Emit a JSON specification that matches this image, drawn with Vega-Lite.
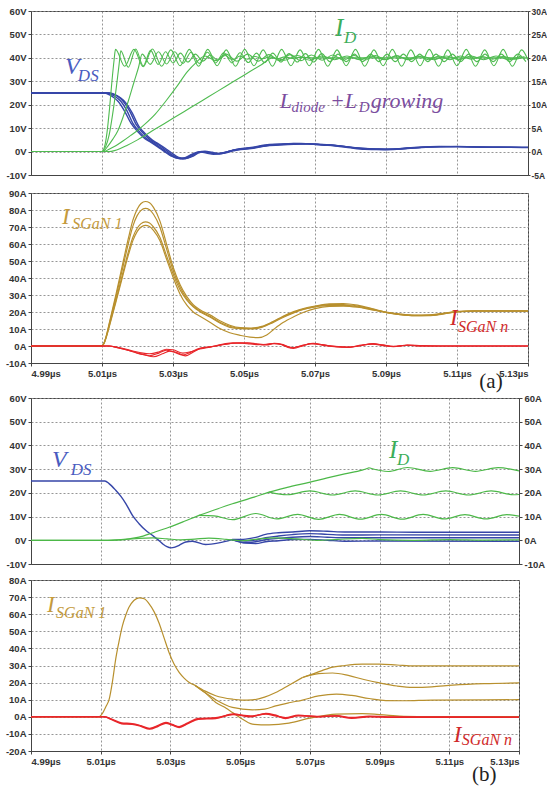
{
"$schema":"https://vega.github.io/schema/vega-lite/v6.json",
"background":"white",
"padding":{"left":4,"top":5,"right":5,"bottom":0},
"autosize":{"type":"pad"},
"datasets":{
"aV":[
{"c":"1","t":4.99,"v":25},{"c":"1","t":5.0112,"v":25},{"c":"1","t":5.0125,"v":24.4},{"c":"1","t":5.014,"v":23.2},{"c":"1","t":5.0151,"v":21.8},{"c":"1","t":5.017,"v":17.5},{"c":"1","t":5.0188,"v":11.8},{"c":"1","t":5.0207,"v":8.2},{"c":"1","t":5.0226,"v":5.4},{"c":"1","t":5.0245,"v":3.6},{"c":"1","t":5.0263,"v":1.8},{"c":"1","t":5.0282,"v":-0.3},{"c":"1","t":5.0301,"v":-2.1},{"c":"1","t":5.032,"v":-3.1},{"c":"1","t":5.034,"v":-2.5},{"c":"1","t":5.036,"v":-0.9},{"c":"1","t":5.038,"v":0},{"c":"1","t":5.04,"v":-0.4},{"c":"1","t":5.042,"v":-1},{"c":"1","t":5.044,"v":-0.7},{"c":"1","t":5.046,"v":0.2},{"c":"1","t":5.048,"v":0.9},{"c":"1","t":5.05,"v":1.2},{"c":"1","t":5.052,"v":1.5},{"c":"1","t":5.054,"v":2},{"c":"1","t":5.056,"v":2.6},{"c":"1","t":5.06,"v":3},{"c":"1","t":5.064,"v":3.3},{"c":"1","t":5.068,"v":3.4},{"c":"1","t":5.072,"v":3},{"c":"1","t":5.076,"v":2.6},{"c":"1","t":5.08,"v":1.8},{"c":"1","t":5.084,"v":1.2},{"c":"1","t":5.088,"v":1},{"c":"1","t":5.092,"v":0.9},{"c":"1","t":5.096,"v":1.4},{"c":"1","t":5.1,"v":1.8},{"c":"1","t":5.105,"v":2.1},{"c":"1","t":5.11,"v":2.2},{"c":"1","t":5.115,"v":2},{"c":"1","t":5.12,"v":1.9},{"c":"1","t":5.125,"v":1.9},{"c":"1","t":5.13,"v":1.8},
{"c":"2","t":4.99,"v":25},{"c":"2","t":5.0118,"v":25},{"c":"2","t":5.0133,"v":24.4},{"c":"2","t":5.0148,"v":23.2},{"c":"2","t":5.0159,"v":21.6},{"c":"2","t":5.0178,"v":17.3},{"c":"2","t":5.0196,"v":11.6},{"c":"2","t":5.0215,"v":8},{"c":"2","t":5.0234,"v":5.2},{"c":"2","t":5.0253,"v":3.4},{"c":"2","t":5.0271,"v":1.6},{"c":"2","t":5.029,"v":-0.6},{"c":"2","t":5.0309,"v":-2.4},{"c":"2","t":5.0328,"v":-3.2},{"c":"2","t":5.0347,"v":-2.4},{"c":"2","t":5.0366,"v":-0.7},{"c":"2","t":5.0385,"v":0.1},{"c":"2","t":5.0405,"v":-0.5},{"c":"2","t":5.0425,"v":-0.8},{"c":"2","t":5.0445,"v":-0.4},{"c":"2","t":5.0465,"v":0.4},{"c":"2","t":5.0485,"v":1.1},{"c":"2","t":5.05,"v":1.4},{"c":"2","t":5.052,"v":1.8},{"c":"2","t":5.054,"v":2.3},{"c":"2","t":5.056,"v":2.8},{"c":"2","t":5.06,"v":3.2},{"c":"2","t":5.064,"v":3.5},{"c":"2","t":5.068,"v":3.3},{"c":"2","t":5.072,"v":2.8},{"c":"2","t":5.076,"v":2.4},{"c":"2","t":5.08,"v":1.6},{"c":"2","t":5.084,"v":1},{"c":"2","t":5.088,"v":0.9},{"c":"2","t":5.092,"v":1},{"c":"2","t":5.096,"v":1.6},{"c":"2","t":5.1,"v":2},{"c":"2","t":5.105,"v":2.2},{"c":"2","t":5.11,"v":2.1},{"c":"2","t":5.115,"v":1.9},{"c":"2","t":5.12,"v":1.8},{"c":"2","t":5.125,"v":1.8},{"c":"2","t":5.13,"v":1.7},
{"c":"3","t":4.99,"v":25},{"c":"3","t":5.0107,"v":25},{"c":"3","t":5.012,"v":24.3},{"c":"3","t":5.0134,"v":23},{"c":"3","t":5.0145,"v":21.5},{"c":"3","t":5.0164,"v":17.2},{"c":"3","t":5.0182,"v":12},{"c":"3","t":5.0201,"v":8.4},{"c":"3","t":5.022,"v":5.6},{"c":"3","t":5.0239,"v":3.8},{"c":"3","t":5.0257,"v":2},{"c":"3","t":5.0276,"v":0},{"c":"3","t":5.0295,"v":-1.9},{"c":"3","t":5.0314,"v":-2.9},{"c":"3","t":5.0334,"v":-2.6},{"c":"3","t":5.0354,"v":-1.1},{"c":"3","t":5.0374,"v":-0.1},{"c":"3","t":5.0394,"v":-0.6},{"c":"3","t":5.0414,"v":-1.2},{"c":"3","t":5.0434,"v":-0.9},{"c":"3","t":5.0455,"v":0},{"c":"3","t":5.0475,"v":0.7},{"c":"3","t":5.05,"v":1},{"c":"3","t":5.052,"v":1.3},{"c":"3","t":5.054,"v":1.8},{"c":"3","t":5.056,"v":2.4},{"c":"3","t":5.06,"v":2.8},{"c":"3","t":5.064,"v":3.1},{"c":"3","t":5.068,"v":3.2},{"c":"3","t":5.072,"v":2.9},{"c":"3","t":5.076,"v":2.5},{"c":"3","t":5.08,"v":1.9},{"c":"3","t":5.084,"v":1.3},{"c":"3","t":5.088,"v":1.1},{"c":"3","t":5.092,"v":1},{"c":"3","t":5.096,"v":1.3},{"c":"3","t":5.1,"v":1.7},{"c":"3","t":5.105,"v":2},{"c":"3","t":5.11,"v":2.1},{"c":"3","t":5.115,"v":2},{"c":"3","t":5.12,"v":1.9},{"c":"3","t":5.125,"v":1.8},{"c":"3","t":5.13,"v":1.8},
{"c":"4","t":4.99,"v":25},{"c":"4","t":5.0122,"v":25},{"c":"4","t":5.0138,"v":24.2},{"c":"4","t":5.0153,"v":22.8},{"c":"4","t":5.0166,"v":21},{"c":"4","t":5.0185,"v":16.5},{"c":"4","t":5.0203,"v":11},{"c":"4","t":5.0222,"v":7.6},{"c":"4","t":5.0241,"v":5},{"c":"4","t":5.026,"v":3.2},{"c":"4","t":5.0278,"v":1.4},{"c":"4","t":5.0297,"v":-0.7},{"c":"4","t":5.0316,"v":-2.5},{"c":"4","t":5.0335,"v":-3},{"c":"4","t":5.0353,"v":-2.2},{"c":"4","t":5.0372,"v":-0.6},{"c":"4","t":5.039,"v":0.2},{"c":"4","t":5.041,"v":-0.3},{"c":"4","t":5.043,"v":-0.9},{"c":"4","t":5.045,"v":-0.5},{"c":"4","t":5.047,"v":0.3},{"c":"4","t":5.049,"v":1},{"c":"4","t":5.051,"v":1.3},{"c":"4","t":5.053,"v":1.7},{"c":"4","t":5.055,"v":2.2},{"c":"4","t":5.058,"v":2.9},{"c":"4","t":5.062,"v":3.3},{"c":"4","t":5.066,"v":3.5},{"c":"4","t":5.07,"v":3.2},{"c":"4","t":5.074,"v":2.8},{"c":"4","t":5.078,"v":2.2},{"c":"4","t":5.082,"v":1.5},{"c":"4","t":5.086,"v":1.1},{"c":"4","t":5.09,"v":0.9},{"c":"4","t":5.094,"v":1.2},{"c":"4","t":5.098,"v":1.6},{"c":"4","t":5.102,"v":1.9},{"c":"4","t":5.107,"v":2.1},{"c":"4","t":5.112,"v":2.1},{"c":"4","t":5.118,"v":1.9},{"c":"4","t":5.124,"v":1.9},{"c":"4","t":5.13,"v":1.8}
],
"aI":[
{"c":"1","t":4.99,"v":0},{"c":"1","t":5.0099,"v":0},{"c":"1","t":5.0107,"v":1},{"c":"1","t":5.0114,"v":4},{"c":"1","t":5.0121,"v":9},{"c":"1","t":5.0128,"v":15},{"c":"1","t":5.0134,"v":19.5},{"c":"1","t":5.0138,"v":21.8},{"c":"1","t":5.0164,"v":18.2},{"c":"1","t":5.019,"v":21.8},{"c":"1","t":5.0216,"v":18.1},{"c":"1","t":5.0242,"v":21.9},{"c":"1","t":5.0268,"v":18.2},{"c":"1","t":5.0294,"v":21.7},{"c":"1","t":5.032,"v":18.3},{"c":"1","t":5.0346,"v":21.8},{"c":"1","t":5.0372,"v":18.2},{"c":"1","t":5.0398,"v":21.8},{"c":"1","t":5.0424,"v":18.3},{"c":"1","t":5.045,"v":21.7},{"c":"1","t":5.0476,"v":18.2},{"c":"1","t":5.0502,"v":21.8},{"c":"1","t":5.0528,"v":18.3},{"c":"1","t":5.0554,"v":21.7},{"c":"1","t":5.058,"v":18.2},{"c":"1","t":5.0606,"v":21.8},{"c":"1","t":5.0632,"v":18.3},{"c":"1","t":5.0658,"v":21.7},{"c":"1","t":5.0684,"v":18.3},{"c":"1","t":5.071,"v":21.8},{"c":"1","t":5.0736,"v":18.2},{"c":"1","t":5.0762,"v":21.7},{"c":"1","t":5.0788,"v":18.3},{"c":"1","t":5.0814,"v":21.8},{"c":"1","t":5.084,"v":18.2},{"c":"1","t":5.0866,"v":21.7},{"c":"1","t":5.0892,"v":18.3},{"c":"1","t":5.0918,"v":21.8},{"c":"1","t":5.0944,"v":18.2},{"c":"1","t":5.097,"v":21.7},{"c":"1","t":5.0996,"v":18.3},{"c":"1","t":5.1022,"v":21.8},{"c":"1","t":5.1048,"v":18.2},{"c":"1","t":5.1074,"v":21.7},{"c":"1","t":5.11,"v":18.3},{"c":"1","t":5.1126,"v":21.8},{"c":"1","t":5.1152,"v":18.2},{"c":"1","t":5.1178,"v":21.7},{"c":"1","t":5.1204,"v":18.3},{"c":"1","t":5.123,"v":21.8},{"c":"1","t":5.1256,"v":18.2},{"c":"1","t":5.1282,"v":21.7},{"c":"1","t":5.13,"v":19.5},
{"c":"2","t":4.99,"v":0},{"c":"2","t":5.0099,"v":0},{"c":"2","t":5.011,"v":1},{"c":"2","t":5.012,"v":3.5},{"c":"2","t":5.013,"v":8},{"c":"2","t":5.014,"v":13.5},{"c":"2","t":5.0148,"v":18.5},{"c":"2","t":5.0153,"v":21.5},{"c":"2","t":5.0174,"v":18},{"c":"2","t":5.0195,"v":21.9},{"c":"2","t":5.0216,"v":18.3},{"c":"2","t":5.0237,"v":21.6},{"c":"2","t":5.0258,"v":18.6},{"c":"2","t":5.0279,"v":21.3},{"c":"2","t":5.03,"v":18.9},{"c":"2","t":5.0321,"v":21},{"c":"2","t":5.0342,"v":19.1},{"c":"2","t":5.0363,"v":20.8},{"c":"2","t":5.0384,"v":19.3},{"c":"2","t":5.0405,"v":20.6},{"c":"2","t":5.0426,"v":19.5},{"c":"2","t":5.0447,"v":20.5},{"c":"2","t":5.0468,"v":19.6},{"c":"2","t":5.0489,"v":20.4},{"c":"2","t":5.051,"v":19.7},{"c":"2","t":5.0531,"v":20.3},{"c":"2","t":5.0552,"v":19.8},{"c":"2","t":5.0573,"v":20.2},{"c":"2","t":5.0594,"v":19.8},{"c":"2","t":5.0615,"v":20.2},{"c":"2","t":5.0636,"v":19.9},{"c":"2","t":5.0657,"v":20.1},{"c":"2","t":5.07,"v":20},{"c":"2","t":5.13,"v":20},
{"c":"3","t":4.99,"v":0},{"c":"3","t":5.0102,"v":0},{"c":"3","t":5.0115,"v":1},{"c":"3","t":5.013,"v":2.6},{"c":"3","t":5.0145,"v":4.5},{"c":"3","t":5.016,"v":7.5},{"c":"3","t":5.0175,"v":11},{"c":"3","t":5.019,"v":14.8},{"c":"3","t":5.0203,"v":18},{"c":"3","t":5.0213,"v":20.8},{"c":"3","t":5.0236,"v":18.6},{"c":"3","t":5.0259,"v":21.3},{"c":"3","t":5.0282,"v":18.7},{"c":"3","t":5.0305,"v":21.3},{"c":"3","t":5.0328,"v":18.8},{"c":"3","t":5.0351,"v":21.2},{"c":"3","t":5.0374,"v":18.8},{"c":"3","t":5.0397,"v":21.2},{"c":"3","t":5.042,"v":18.9},{"c":"3","t":5.0443,"v":21.1},{"c":"3","t":5.0466,"v":18.9},{"c":"3","t":5.0489,"v":21.1},{"c":"3","t":5.0512,"v":19},{"c":"3","t":5.0535,"v":21},{"c":"3","t":5.0558,"v":19},{"c":"3","t":5.0581,"v":21},{"c":"3","t":5.0604,"v":19.1},{"c":"3","t":5.0627,"v":20.9},{"c":"3","t":5.065,"v":19.1},{"c":"3","t":5.0673,"v":20.9},{"c":"3","t":5.0696,"v":19.1},{"c":"3","t":5.0719,"v":20.9},{"c":"3","t":5.0742,"v":19.2},{"c":"3","t":5.0765,"v":20.8},{"c":"3","t":5.0788,"v":19.2},{"c":"3","t":5.0811,"v":20.8},{"c":"3","t":5.0834,"v":19.2},{"c":"3","t":5.0857,"v":20.8},{"c":"3","t":5.088,"v":19.2},{"c":"3","t":5.0903,"v":20.8},{"c":"3","t":5.0926,"v":19.2},{"c":"3","t":5.0949,"v":20.8},{"c":"3","t":5.0972,"v":19.2},{"c":"3","t":5.0995,"v":20.8},{"c":"3","t":5.1018,"v":19.2},{"c":"3","t":5.1041,"v":20.8},{"c":"3","t":5.1064,"v":19.2},{"c":"3","t":5.1087,"v":20.8},{"c":"3","t":5.111,"v":19.2},{"c":"3","t":5.1133,"v":20.8},{"c":"3","t":5.1156,"v":19.2},{"c":"3","t":5.1179,"v":20.8},{"c":"3","t":5.1202,"v":19.2},{"c":"3","t":5.1225,"v":20.8},{"c":"3","t":5.1248,"v":19.2},{"c":"3","t":5.1271,"v":20.8},{"c":"3","t":5.1294,"v":19.2},
{"c":"4","t":4.99,"v":0},{"c":"4","t":5.0105,"v":0},{"c":"4","t":5.012,"v":0.5},{"c":"4","t":5.014,"v":1.3},{"c":"4","t":5.016,"v":2.3},{"c":"4","t":5.018,"v":3.4},{"c":"4","t":5.02,"v":4.5},{"c":"4","t":5.022,"v":5.8},{"c":"4","t":5.025,"v":8},{"c":"4","t":5.028,"v":10.8},{"c":"4","t":5.031,"v":13.8},{"c":"4","t":5.034,"v":17},{"c":"4","t":5.0365,"v":19},{"c":"4","t":5.039,"v":20.4},{"c":"4","t":5.042,"v":19.4},{"c":"4","t":5.045,"v":20.8},{"c":"4","t":5.048,"v":19.3},{"c":"4","t":5.051,"v":20.8},{"c":"4","t":5.054,"v":19.3},{"c":"4","t":5.057,"v":20.7},{"c":"4","t":5.06,"v":19.4},{"c":"4","t":5.063,"v":20.7},{"c":"4","t":5.066,"v":19.4},{"c":"4","t":5.069,"v":20.6},{"c":"4","t":5.072,"v":19.5},{"c":"4","t":5.075,"v":20.6},{"c":"4","t":5.078,"v":19.5},{"c":"4","t":5.081,"v":20.5},{"c":"4","t":5.084,"v":19.5},{"c":"4","t":5.087,"v":20.5},{"c":"4","t":5.09,"v":19.6},{"c":"4","t":5.093,"v":20.5},{"c":"4","t":5.096,"v":19.6},{"c":"4","t":5.099,"v":20.4},{"c":"4","t":5.102,"v":19.6},{"c":"4","t":5.105,"v":20.4},{"c":"4","t":5.108,"v":19.6},{"c":"4","t":5.111,"v":20.4},{"c":"4","t":5.114,"v":19.7},{"c":"4","t":5.117,"v":20.3},{"c":"4","t":5.12,"v":19.7},{"c":"4","t":5.123,"v":20.3},{"c":"4","t":5.126,"v":19.7},{"c":"4","t":5.129,"v":20.3},
{"c":"5","t":4.99,"v":0},{"c":"5","t":5.012,"v":0},{"c":"5","t":5.0135,"v":0.2},{"c":"5","t":5.015,"v":0.6},{"c":"5","t":5.017,"v":1.3},{"c":"5","t":5.02,"v":2.5},{"c":"5","t":5.025,"v":4.8},{"c":"5","t":5.03,"v":7.1},{"c":"5","t":5.035,"v":9.4},{"c":"5","t":5.04,"v":11.7},{"c":"5","t":5.045,"v":14},{"c":"5","t":5.05,"v":16.3},{"c":"5","t":5.055,"v":18.6},{"c":"5","t":5.058,"v":20},{"c":"5","t":5.0615,"v":19.5},{"c":"5","t":5.065,"v":20.5},{"c":"5","t":5.0685,"v":19.5},{"c":"5","t":5.072,"v":20.4},{"c":"5","t":5.0755,"v":19.6},{"c":"5","t":5.079,"v":20.4},{"c":"5","t":5.0825,"v":19.6},{"c":"5","t":5.086,"v":20.4},{"c":"5","t":5.0895,"v":19.6},{"c":"5","t":5.093,"v":20.4},{"c":"5","t":5.0965,"v":19.6},{"c":"5","t":5.1,"v":20.4},{"c":"5","t":5.1035,"v":19.6},{"c":"5","t":5.107,"v":20.4},{"c":"5","t":5.1105,"v":19.6},{"c":"5","t":5.114,"v":20.4},{"c":"5","t":5.1175,"v":19.6},{"c":"5","t":5.121,"v":20.4},{"c":"5","t":5.1245,"v":19.6},{"c":"5","t":5.128,"v":20.4}
],
"aG":[
{"c":"1","t":4.99,"v":0},{"c":"1","t":5.0099,"v":0},{"c":"1","t":5.0105,"v":1.5},{"c":"1","t":5.0112,"v":6},{"c":"1","t":5.012,"v":13},{"c":"1","t":5.014,"v":31},{"c":"1","t":5.016,"v":50},{"c":"1","t":5.0175,"v":64},{"c":"1","t":5.0187,"v":74},{"c":"1","t":5.0199,"v":80.5},{"c":"1","t":5.021,"v":83.8},{"c":"1","t":5.0222,"v":85},{"c":"1","t":5.0234,"v":84.2},{"c":"1","t":5.0245,"v":81.5},{"c":"1","t":5.0263,"v":73.6},{"c":"1","t":5.0282,"v":59.8},{"c":"1","t":5.0301,"v":46},{"c":"1","t":5.032,"v":36},{"c":"1","t":5.0339,"v":29},{"c":"1","t":5.0357,"v":24.3},{"c":"1","t":5.0376,"v":21.3},{"c":"1","t":5.0404,"v":18.3},{"c":"1","t":5.0432,"v":14.8},{"c":"1","t":5.046,"v":12.2},{"c":"1","t":5.0489,"v":10.8},{"c":"1","t":5.052,"v":10.6},{"c":"1","t":5.055,"v":11.5},{"c":"1","t":5.058,"v":14.2},{"c":"1","t":5.061,"v":17.5},{"c":"1","t":5.064,"v":20.2},{"c":"1","t":5.067,"v":22.2},{"c":"1","t":5.07,"v":23.5},{"c":"1","t":5.074,"v":24.8},{"c":"1","t":5.078,"v":25},{"c":"1","t":5.082,"v":24},{"c":"1","t":5.086,"v":22},{"c":"1","t":5.09,"v":19.8},{"c":"1","t":5.094,"v":18.5},{"c":"1","t":5.098,"v":17.8},{"c":"1","t":5.102,"v":17.8},{"c":"1","t":5.106,"v":18.8},{"c":"1","t":5.11,"v":20.2},{"c":"1","t":5.115,"v":20.7},{"c":"1","t":5.13,"v":20.7},
{"c":"2","t":4.99,"v":0},{"c":"2","t":5.0099,"v":0},{"c":"2","t":5.0105,"v":1.4},{"c":"2","t":5.0112,"v":5.7},{"c":"2","t":5.012,"v":12.4},{"c":"2","t":5.014,"v":29.5},{"c":"2","t":5.016,"v":47.5},{"c":"2","t":5.0175,"v":61},{"c":"2","t":5.0187,"v":70.5},{"c":"2","t":5.0199,"v":76.7},{"c":"2","t":5.021,"v":79.8},{"c":"2","t":5.0222,"v":81},{"c":"2","t":5.0234,"v":80.2},{"c":"2","t":5.0245,"v":77.5},{"c":"2","t":5.0263,"v":70},{"c":"2","t":5.0282,"v":57},{"c":"2","t":5.0301,"v":44},{"c":"2","t":5.032,"v":34.5},{"c":"2","t":5.0339,"v":27.8},{"c":"2","t":5.0357,"v":23.5},{"c":"2","t":5.0376,"v":20.6},{"c":"2","t":5.0404,"v":17.5},{"c":"2","t":5.0432,"v":14},{"c":"2","t":5.046,"v":11.6},{"c":"2","t":5.0489,"v":10.4},{"c":"2","t":5.052,"v":10.3},{"c":"2","t":5.055,"v":11.3},{"c":"2","t":5.058,"v":14},{"c":"2","t":5.061,"v":17.2},{"c":"2","t":5.064,"v":19.8},{"c":"2","t":5.067,"v":21.8},{"c":"2","t":5.07,"v":23.2},{"c":"2","t":5.074,"v":24.3},{"c":"2","t":5.078,"v":24.4},{"c":"2","t":5.082,"v":23.5},{"c":"2","t":5.086,"v":21.7},{"c":"2","t":5.09,"v":19.7},{"c":"2","t":5.094,"v":18.5},{"c":"2","t":5.098,"v":17.9},{"c":"2","t":5.102,"v":18},{"c":"2","t":5.106,"v":19},{"c":"2","t":5.11,"v":20.2},{"c":"2","t":5.115,"v":20.6},{"c":"2","t":5.13,"v":20.6},
{"c":"3","t":4.99,"v":0},{"c":"3","t":5.0099,"v":0},{"c":"3","t":5.0105,"v":1.3},{"c":"3","t":5.0112,"v":5.3},{"c":"3","t":5.012,"v":11.5},{"c":"3","t":5.014,"v":27.5},{"c":"3","t":5.016,"v":44},{"c":"3","t":5.0175,"v":56},{"c":"3","t":5.0187,"v":64},{"c":"3","t":5.0199,"v":69.3},{"c":"3","t":5.021,"v":72},{"c":"3","t":5.0222,"v":73},{"c":"3","t":5.0234,"v":72.3},{"c":"3","t":5.0245,"v":70},{"c":"3","t":5.0263,"v":64},{"c":"3","t":5.0282,"v":53},{"c":"3","t":5.0301,"v":42},{"c":"3","t":5.032,"v":33},{"c":"3","t":5.0339,"v":27},{"c":"3","t":5.0357,"v":23},{"c":"3","t":5.0376,"v":20.2},{"c":"3","t":5.0404,"v":17},{"c":"3","t":5.0432,"v":13.5},{"c":"3","t":5.046,"v":11},{"c":"3","t":5.0489,"v":10.2},{"c":"3","t":5.052,"v":10},{"c":"3","t":5.055,"v":11},{"c":"3","t":5.058,"v":13.6},{"c":"3","t":5.061,"v":16.8},{"c":"3","t":5.064,"v":19.5},{"c":"3","t":5.067,"v":21.6},{"c":"3","t":5.07,"v":23},{"c":"3","t":5.074,"v":23.9},{"c":"3","t":5.078,"v":23.9},{"c":"3","t":5.082,"v":23.1},{"c":"3","t":5.086,"v":21.5},{"c":"3","t":5.09,"v":19.9},{"c":"3","t":5.094,"v":18.8},{"c":"3","t":5.098,"v":18.2},{"c":"3","t":5.102,"v":18.3},{"c":"3","t":5.106,"v":19.2},{"c":"3","t":5.11,"v":20.2},{"c":"3","t":5.115,"v":20.6},{"c":"3","t":5.13,"v":20.6},
{"c":"4","t":4.99,"v":0},{"c":"4","t":5.0099,"v":0},{"c":"4","t":5.0105,"v":1.3},{"c":"4","t":5.0112,"v":5.1},{"c":"4","t":5.012,"v":11},{"c":"4","t":5.014,"v":26.5},{"c":"4","t":5.016,"v":42.5},{"c":"4","t":5.0175,"v":54},{"c":"4","t":5.0187,"v":62},{"c":"4","t":5.0199,"v":67.3},{"c":"4","t":5.021,"v":70},{"c":"4","t":5.0222,"v":71},{"c":"4","t":5.0234,"v":70.3},{"c":"4","t":5.0245,"v":68},{"c":"4","t":5.0263,"v":62},{"c":"4","t":5.0282,"v":51},{"c":"4","t":5.0301,"v":40},{"c":"4","t":5.032,"v":30.5},{"c":"4","t":5.0339,"v":24},{"c":"4","t":5.0357,"v":20},{"c":"4","t":5.0376,"v":17.5},{"c":"4","t":5.0404,"v":14},{"c":"4","t":5.0432,"v":10.3},{"c":"4","t":5.046,"v":7.8},{"c":"4","t":5.0489,"v":6.3},{"c":"4","t":5.0517,"v":5.2},{"c":"4","t":5.054,"v":4.9},{"c":"4","t":5.0564,"v":6.5},{"c":"4","t":5.0585,"v":10},{"c":"4","t":5.061,"v":13.8},{"c":"4","t":5.064,"v":17.2},{"c":"4","t":5.067,"v":20},{"c":"4","t":5.07,"v":22},{"c":"4","t":5.074,"v":23.3},{"c":"4","t":5.078,"v":23.5},{"c":"4","t":5.082,"v":22.8},{"c":"4","t":5.086,"v":21.3},{"c":"4","t":5.09,"v":19.8},{"c":"4","t":5.094,"v":18.6},{"c":"4","t":5.098,"v":18},{"c":"4","t":5.102,"v":18},{"c":"4","t":5.106,"v":19},{"c":"4","t":5.11,"v":20.1},{"c":"4","t":5.115,"v":20.5},{"c":"4","t":5.13,"v":20.5}
],
"aR":[
{"c":"1","t":4.99,"v":0},{"c":"1","t":5.012,"v":0},{"c":"1","t":5.014,"v":-0.8},{"c":"1","t":5.016,"v":-1.8},{"c":"1","t":5.0187,"v":-3.4},{"c":"1","t":5.021,"v":-4.8},{"c":"1","t":5.0234,"v":-5.7},{"c":"1","t":5.026,"v":-4.2},{"c":"1","t":5.0281,"v":-2.4},{"c":"1","t":5.03,"v":-3.4},{"c":"1","t":5.0328,"v":-5.3},{"c":"1","t":5.035,"v":-3.6},{"c":"1","t":5.0375,"v":-1.4},{"c":"1","t":5.04,"v":-0.6},{"c":"1","t":5.0422,"v":0},{"c":"1","t":5.0445,"v":1},{"c":"1","t":5.0469,"v":1.6},{"c":"1","t":5.0495,"v":1.8},{"c":"1","t":5.0517,"v":1.6},{"c":"1","t":5.054,"v":1},{"c":"1","t":5.0564,"v":0.6},{"c":"1","t":5.0585,"v":1.6},{"c":"1","t":5.061,"v":0.8},{"c":"1","t":5.0639,"v":-1.4},{"c":"1","t":5.0667,"v":0.2},{"c":"1","t":5.0695,"v":1.6},{"c":"1","t":5.0725,"v":0.5},{"c":"1","t":5.076,"v":-0.3},{"c":"1","t":5.0798,"v":-0.8},{"c":"1","t":5.083,"v":0.3},{"c":"1","t":5.0864,"v":1.4},{"c":"1","t":5.0892,"v":0.5},{"c":"1","t":5.0921,"v":-0.4},{"c":"1","t":5.096,"v":0.6},{"c":"1","t":5.1,"v":0.2},{"c":"1","t":5.105,"v":0},{"c":"1","t":5.13,"v":0},
{"c":"2","t":4.99,"v":0},{"c":"2","t":5.012,"v":0},{"c":"2","t":5.014,"v":-0.6},{"c":"2","t":5.016,"v":-1.5},{"c":"2","t":5.0187,"v":-2.9},{"c":"2","t":5.021,"v":-4},{"c":"2","t":5.0234,"v":-4.6},{"c":"2","t":5.026,"v":-3.5},{"c":"2","t":5.0281,"v":-1.9},{"c":"2","t":5.03,"v":-2.2},{"c":"2","t":5.0328,"v":-4.2},{"c":"2","t":5.035,"v":-3.4},{"c":"2","t":5.0375,"v":-1.8},{"c":"2","t":5.04,"v":-0.9},{"c":"2","t":5.0422,"v":0.3},{"c":"2","t":5.0445,"v":1.3},{"c":"2","t":5.0469,"v":1.9},{"c":"2","t":5.0495,"v":1.6},{"c":"2","t":5.0517,"v":1.2},{"c":"2","t":5.054,"v":0.8},{"c":"2","t":5.0564,"v":1},{"c":"2","t":5.0585,"v":1.5},{"c":"2","t":5.061,"v":0.5},{"c":"2","t":5.0639,"v":-1},{"c":"2","t":5.0667,"v":0.5},{"c":"2","t":5.0695,"v":1.3},{"c":"2","t":5.0725,"v":0.3},{"c":"2","t":5.076,"v":-0.5},{"c":"2","t":5.0798,"v":-0.6},{"c":"2","t":5.083,"v":0.6},{"c":"2","t":5.0864,"v":1.1},{"c":"2","t":5.0892,"v":0.2},{"c":"2","t":5.0921,"v":-0.2},{"c":"2","t":5.096,"v":0.4},{"c":"2","t":5.1,"v":0.1},{"c":"2","t":5.105,"v":0},{"c":"2","t":5.13,"v":0},
{"c":"3","t":4.99,"v":0},{"c":"3","t":5.012,"v":0},{"c":"3","t":5.0145,"v":-1},{"c":"3","t":5.017,"v":-2.3},{"c":"3","t":5.0195,"v":-3.8},{"c":"3","t":5.022,"v":-5.2},{"c":"3","t":5.0245,"v":-6.3},{"c":"3","t":5.027,"v":-4.6},{"c":"3","t":5.029,"v":-3},{"c":"3","t":5.031,"v":-3.8},{"c":"3","t":5.0335,"v":-5.8},{"c":"3","t":5.036,"v":-3.2},{"c":"3","t":5.038,"v":-1.2},{"c":"3","t":5.041,"v":-0.3},{"c":"3","t":5.0435,"v":0.6},{"c":"3","t":5.046,"v":1.4},{"c":"3","t":5.048,"v":1.8},{"c":"3","t":5.051,"v":1.9},{"c":"3","t":5.0535,"v":1.3},{"c":"3","t":5.0555,"v":0.8},{"c":"3","t":5.058,"v":1.3},{"c":"3","t":5.06,"v":1.2},{"c":"3","t":5.063,"v":-1.2},{"c":"3","t":5.066,"v":0},{"c":"3","t":5.069,"v":1.4},{"c":"3","t":5.072,"v":0.8},{"c":"3","t":5.0755,"v":-0.2},{"c":"3","t":5.079,"v":-0.7},{"c":"3","t":5.0825,"v":0.1},{"c":"3","t":5.086,"v":1.2},{"c":"3","t":5.089,"v":0.7},{"c":"3","t":5.092,"v":-0.3},{"c":"3","t":5.096,"v":0.4},{"c":"3","t":5.1,"v":0.1},{"c":"3","t":5.105,"v":0},{"c":"3","t":5.13,"v":0}
],
"bV":[
{"c":"0","t":4.99,"v":25},{"c":"0","t":5.0112,"v":25},{"c":"0","t":5.0124,"v":23.9},{"c":"0","t":5.0143,"v":21.1},{"c":"0","t":5.0158,"v":18.5},{"c":"0","t":5.0172,"v":15.5},{"c":"0","t":5.0191,"v":10.5},{"c":"0","t":5.021,"v":7},{"c":"0","t":5.0229,"v":4.2},{"c":"0","t":5.0248,"v":2.1},{"c":"0","t":5.0262,"v":0.5},{"c":"0","t":5.0277,"v":-1.4},{"c":"0","t":5.029,"v":-2.7},{"c":"0","t":5.0301,"v":-3.2},{"c":"0","t":5.0313,"v":-2.9},{"c":"0","t":5.0325,"v":-2.1},{"c":"0","t":5.0344,"v":-0.7},{"c":"0","t":5.0363,"v":-0.4},{"c":"0","t":5.0401,"v":-1.8},{"c":"0","t":5.0439,"v":-1.1},{"c":"0","t":5.0477,"v":0.3},
{"c":"1","t":5.0477,"v":0.3},{"c":"1","t":5.0516,"v":0.5},{"c":"1","t":5.0545,"v":1.2},{"c":"1","t":5.0573,"v":2.5},{"c":"1","t":5.061,"v":3.2},{"c":"1","t":5.065,"v":3.5},{"c":"1","t":5.07,"v":4},{"c":"1","t":5.075,"v":3.8},{"c":"1","t":5.08,"v":3.5},{"c":"1","t":5.09,"v":3.5},{"c":"1","t":5.1,"v":3.4},{"c":"1","t":5.13,"v":3.4},
{"c":"2","t":5.0477,"v":0.3},{"c":"2","t":5.0516,"v":-0.3},{"c":"2","t":5.0545,"v":0.2},{"c":"2","t":5.0573,"v":1.1},{"c":"2","t":5.061,"v":1.8},{"c":"2","t":5.065,"v":2.4},{"c":"2","t":5.07,"v":2.8},{"c":"2","t":5.075,"v":2.5},{"c":"2","t":5.08,"v":2.2},{"c":"2","t":5.09,"v":2.3},{"c":"2","t":5.13,"v":2.2},
{"c":"3","t":5.0477,"v":0.3},{"c":"3","t":5.0516,"v":-1},{"c":"3","t":5.0545,"v":-0.6},{"c":"3","t":5.0573,"v":0.2},{"c":"3","t":5.061,"v":0.8},{"c":"3","t":5.065,"v":1.3},{"c":"3","t":5.07,"v":1.6},{"c":"3","t":5.075,"v":1.3},{"c":"3","t":5.08,"v":1.1},{"c":"3","t":5.13,"v":1.1},
{"c":"4","t":5.0477,"v":0.3},{"c":"4","t":5.0516,"v":-1.2},{"c":"4","t":5.0545,"v":-1.4},{"c":"4","t":5.0573,"v":-0.6},{"c":"4","t":5.061,"v":-0.2},{"c":"4","t":5.065,"v":0.3},{"c":"4","t":5.07,"v":0.4},{"c":"4","t":5.075,"v":0},{"c":"4","t":5.08,"v":-0.4},{"c":"4","t":5.09,"v":-0.3},{"c":"4","t":5.13,"v":-0.4}
],
"bI":[
{"c":"r","t":4.99,"v":0},{"c":"r","t":5.012,"v":0},{"c":"r","t":5.015,"v":0.2},{"c":"r","t":5.018,"v":0.6},{"c":"r","t":5.021,"v":1.3},{"c":"r","t":5.025,"v":3.2},{"c":"r","t":5.0296,"v":5.5},{"c":"r","t":5.034,"v":8},{"c":"r","t":5.0382,"v":10.5},{"c":"r","t":5.043,"v":13},{"c":"r","t":5.0478,"v":15.4},{"c":"r","t":5.054,"v":18.2},{"c":"r","t":5.0583,"v":20.3},{"c":"r","t":5.0635,"v":22.3},{"c":"r","t":5.0698,"v":24.4},{"c":"r","t":5.075,"v":26.3},{"c":"r","t":5.08,"v":28},{"c":"r","t":5.085,"v":29.6},{"c":"r","t":5.087,"v":30.6},
{"c":"30","t":5.087,"v":30.6},{"c":"30","t":5.0925,"v":29},{"c":"30","t":5.098,"v":30.7},{"c":"30","t":5.1045,"v":29.1},{"c":"30","t":5.111,"v":30.6},{"c":"30","t":5.1175,"v":29.1},{"c":"30","t":5.124,"v":30.6},{"c":"30","t":5.13,"v":29.3},
{"c":"20","t":5.0583,"v":20.3},{"c":"20","t":5.0635,"v":19.2},{"c":"20","t":5.07,"v":20.8},{"c":"20","t":5.0765,"v":19.1},{"c":"20","t":5.083,"v":20.8},{"c":"20","t":5.0895,"v":19.1},{"c":"20","t":5.096,"v":20.8},{"c":"20","t":5.1025,"v":19.1},{"c":"20","t":5.109,"v":20.8},{"c":"20","t":5.1155,"v":19.1},{"c":"20","t":5.122,"v":20.8},{"c":"20","t":5.1285,"v":19.2},{"c":"20","t":5.13,"v":19.3},
{"c":"10","t":5.0382,"v":10.5},{"c":"10","t":5.0425,"v":10.3},{"c":"10","t":5.0478,"v":8.7},{"c":"10","t":5.0545,"v":11.3},{"c":"10","t":5.0605,"v":9},{"c":"10","t":5.0665,"v":10.9},{"c":"10","t":5.0725,"v":8.8},{"c":"10","t":5.0785,"v":10.9},{"c":"10","t":5.0845,"v":8.9},{"c":"10","t":5.0905,"v":10.9},{"c":"10","t":5.0965,"v":8.9},{"c":"10","t":5.1025,"v":10.9},{"c":"10","t":5.1085,"v":9},{"c":"10","t":5.1145,"v":10.8},{"c":"10","t":5.1205,"v":9},{"c":"10","t":5.1265,"v":10.8},{"c":"10","t":5.13,"v":10.2},
{"c":"0","t":4.99,"v":0},{"c":"0","t":5.012,"v":0},{"c":"0","t":5.017,"v":0.3},{"c":"0","t":5.021,"v":0.8},{"c":"0","t":5.025,"v":1},{"c":"0","t":5.029,"v":0.6},{"c":"0","t":5.033,"v":0.2},{"c":"0","t":5.037,"v":0.5},{"c":"0","t":5.041,"v":0.9},{"c":"0","t":5.046,"v":0.4},{"c":"0","t":5.05,"v":-0.2},{"c":"0","t":5.055,"v":0.5},{"c":"0","t":5.06,"v":1},{"c":"0","t":5.066,"v":0.6},{"c":"0","t":5.072,"v":0},{"c":"0","t":5.078,"v":0.4},{"c":"0","t":5.085,"v":0.8},{"c":"0","t":5.09,"v":0.3},{"c":"0","t":5.1,"v":0},{"c":"0","t":5.11,"v":0.3},{"c":"0","t":5.12,"v":0.1},{"c":"0","t":5.13,"v":0.2}
],
"bG":[
{"c":"s","t":4.99,"v":0},{"c":"s","t":5.0095,"v":0},{"c":"s","t":5.0105,"v":2},{"c":"s","t":5.0115,"v":6},{"c":"s","t":5.0124,"v":10},{"c":"s","t":5.0134,"v":21},{"c":"s","t":5.0143,"v":33.7},{"c":"s","t":5.0152,"v":43.5},{"c":"s","t":5.0162,"v":53},{"c":"s","t":5.0172,"v":59.5},{"c":"s","t":5.0181,"v":64},{"c":"s","t":5.0195,"v":68},{"c":"s","t":5.021,"v":69.6},{"c":"s","t":5.0225,"v":69},{"c":"s","t":5.0239,"v":66},{"c":"s","t":5.0253,"v":61.5},{"c":"s","t":5.0267,"v":55},{"c":"s","t":5.0282,"v":46},{"c":"s","t":5.0296,"v":37.6},{"c":"s","t":5.031,"v":31},{"c":"s","t":5.0325,"v":26},{"c":"s","t":5.034,"v":22.5},{"c":"s","t":5.0353,"v":20.2},{"c":"s","t":5.037,"v":18.5},
{"c":"a","t":5.037,"v":18.5},{"c":"a","t":5.04,"v":15},{"c":"a","t":5.043,"v":12.3},{"c":"a","t":5.0478,"v":10.3},{"c":"a","t":5.0505,"v":9.8},{"c":"a","t":5.0535,"v":9.9},{"c":"a","t":5.057,"v":11.5},{"c":"a","t":5.0602,"v":14.2},{"c":"a","t":5.064,"v":18.5},{"c":"a","t":5.0679,"v":23},
{"c":"30","t":5.0679,"v":23},{"c":"30","t":5.0735,"v":27},{"c":"30","t":5.0755,"v":28.5},{"c":"30","t":5.08,"v":30},{"c":"30","t":5.085,"v":30.8},{"c":"30","t":5.09,"v":30.8},{"c":"30","t":5.095,"v":30.3},{"c":"30","t":5.1,"v":29.8},{"c":"30","t":5.13,"v":29.8},
{"c":"20","t":5.0679,"v":23},{"c":"20","t":5.0725,"v":25.2},{"c":"20","t":5.0765,"v":25.6},{"c":"20","t":5.081,"v":24.2},{"c":"20","t":5.0855,"v":21.8},{"c":"20","t":5.09,"v":19.8},{"c":"20","t":5.095,"v":18},{"c":"20","t":5.0995,"v":17.2},{"c":"20","t":5.105,"v":17.5},{"c":"20","t":5.111,"v":18.5},{"c":"20","t":5.12,"v":19.4},{"c":"20","t":5.13,"v":19.8},
{"c":"10","t":5.037,"v":18.5},{"c":"10","t":5.04,"v":14},{"c":"10","t":5.043,"v":10},{"c":"10","t":5.0478,"v":5.5},{"c":"10","t":5.0535,"v":4.1},{"c":"10","t":5.057,"v":4.5},{"c":"10","t":5.0602,"v":6.4},{"c":"10","t":5.064,"v":8.2},{"c":"10","t":5.0679,"v":9.8},{"c":"10","t":5.0725,"v":12.2},{"c":"10","t":5.0776,"v":13.3},{"c":"10","t":5.082,"v":12.5},{"c":"10","t":5.087,"v":10.7},{"c":"10","t":5.0918,"v":9.5},{"c":"10","t":5.097,"v":9.4},{"c":"10","t":5.105,"v":9.8},{"c":"10","t":5.13,"v":10},
{"c":"0","t":5.037,"v":18.5},{"c":"0","t":5.04,"v":14},{"c":"0","t":5.043,"v":8.4},{"c":"0","t":5.046,"v":5},{"c":"0","t":5.0478,"v":2.5},{"c":"0","t":5.05,"v":-0.5},{"c":"0","t":5.0535,"v":-4.3},{"c":"0","t":5.056,"v":-4.7},{"c":"0","t":5.0583,"v":-4.7},{"c":"0","t":5.064,"v":-3.7},{"c":"0","t":5.07,"v":-0.8},{"c":"0","t":5.0776,"v":1.6},{"c":"0","t":5.085,"v":1.8},{"c":"0","t":5.092,"v":1},{"c":"0","t":5.097,"v":0.3},{"c":"0","t":5.105,"v":0.1},{"c":"0","t":5.13,"v":0.1}
],
"bR":[
{"c":"1","t":4.99,"v":0},{"c":"1","t":5.011,"v":0},{"c":"1","t":5.013,"v":-1.5},{"c":"1","t":5.016,"v":-4},{"c":"1","t":5.019,"v":-4.3},{"c":"1","t":5.0215,"v":-5.5},{"c":"1","t":5.024,"v":-7.2},{"c":"1","t":5.0265,"v":-5.5},{"c":"1","t":5.0287,"v":-3.7},{"c":"1","t":5.0305,"v":-4.8},{"c":"1","t":5.0325,"v":-6.2},{"c":"1","t":5.035,"v":-4},{"c":"1","t":5.038,"v":-1.4},{"c":"1","t":5.043,"v":-1},{"c":"1","t":5.048,"v":1.6},{"c":"1","t":5.053,"v":0},{"c":"1","t":5.0574,"v":2},{"c":"1","t":5.06,"v":1},{"c":"1","t":5.063,"v":-1},{"c":"1","t":5.0667,"v":0.6},{"c":"1","t":5.072,"v":0.2},{"c":"1","t":5.0776,"v":0.4},{"c":"1","t":5.082,"v":-0.8},{"c":"1","t":5.087,"v":0.1},{"c":"1","t":5.095,"v":-0.3},{"c":"1","t":5.13,"v":-0.3},
{"c":"2","t":4.99,"v":0},{"c":"2","t":5.011,"v":0},{"c":"2","t":5.013,"v":-1.2},{"c":"2","t":5.016,"v":-3.6},{"c":"2","t":5.019,"v":-4},{"c":"2","t":5.0215,"v":-5.2},{"c":"2","t":5.024,"v":-6.8},{"c":"2","t":5.0265,"v":-5},{"c":"2","t":5.0287,"v":-3.3},{"c":"2","t":5.0305,"v":-4.5},{"c":"2","t":5.0325,"v":-5.8},{"c":"2","t":5.035,"v":-3.6},{"c":"2","t":5.038,"v":-1},{"c":"2","t":5.043,"v":-0.6},{"c":"2","t":5.048,"v":1.3},{"c":"2","t":5.053,"v":0.5},{"c":"2","t":5.0574,"v":1.6},{"c":"2","t":5.06,"v":0.6},{"c":"2","t":5.063,"v":-0.5},{"c":"2","t":5.0667,"v":0.9},{"c":"2","t":5.072,"v":0},{"c":"2","t":5.0776,"v":0.6},{"c":"2","t":5.082,"v":-0.4},{"c":"2","t":5.087,"v":0.3},{"c":"2","t":5.095,"v":-0.1},{"c":"2","t":5.13,"v":-0.2}
]
},
"vconcat":[
{"spacing":18,"bounds":"flush","vconcat":[
 {"width":497,"height":164,
  "encoding":{"x":{"field":"t","type":"quantitative","title":null,"scale":{"domain":[4.99,5.13],"nice":false,"zero":false},"axis":{"values":[4.99,5.01,5.03,5.05,5.07,5.09,5.11,5.13],"labels":false,"ticks":false,"grid":true}}},
  "layer":[
   {"encoding":{"y":{"field":"v","type":"quantitative","title":null,"scale":{"domain":[-10,60],"nice":false,"zero":false},"axis":{"values":[-10,0,10,20,30,40,50,60],"labelExpr":"datum.value+'V'","grid":true}}},
    "layer":[
     {"data":{"name":"aV"},"mark":{"type":"line","color":"#3646a8","strokeWidth":1.4,"interpolate":"monotone","clip":true},"encoding":{"detail":{"field":"c"}}},
     {"data":{"values":[{"t":4.9996,"v":33.2,"txt":"V"}]},"mark":{"type":"text","font":"Liberation Serif","fontStyle":"italic","fontSize":24,"align":"left","baseline":"alphabetic","color":"#4a5cc0"},"encoding":{"text":{"field":"txt"}}},
     {"data":{"values":[{"t":5.0032,"v":30.1,"txt":"DS"}]},"mark":{"type":"text","font":"Liberation Serif","fontStyle":"italic","fontSize":17,"align":"left","baseline":"alphabetic","color":"#4a5cc0"},"encoding":{"text":{"field":"txt"}}},
     {"data":{"values":[{"t":5.0601,"v":18.7,"txt":"L"},{"t":5.0742,"v":18.7,"txt":"+L"},{"t":5.0857,"v":18.7,"txt":"growing"}]},"mark":{"type":"text","font":"Liberation Serif","fontStyle":"italic","fontSize":22,"align":"left","baseline":"alphabetic","color":"#7b4d9e"},"encoding":{"text":{"field":"txt"}}},
     {"data":{"values":[{"t":5.0634,"v":17.0,"txt":"diode"},{"t":5.0823,"v":17.0,"txt":"D"}]},"mark":{"type":"text","font":"Liberation Serif","fontStyle":"italic","fontSize":15,"align":"left","baseline":"alphabetic","color":"#7b4d9e"},"encoding":{"text":{"field":"txt"}}}
    ]},
   {"encoding":{"y":{"field":"v","type":"quantitative","title":null,"scale":{"domain":[-5,30],"nice":false,"zero":false},"axis":{"orient":"right","values":[-5,0,5,10,15,20,25,30],"labelExpr":"datum.value+'A'","grid":false,"labelFontSize":8.5,"labelPadding":1,"tickSize":2}}},
    "layer":[
     {"data":{"name":"aI"},"mark":{"type":"line","color":"#4fbb50","strokeWidth":1.1,"interpolate":"monotone","clip":true},"encoding":{"detail":{"field":"c"}}},
     {"data":{"values":[{"t":5.0756,"v":24.7,"txt":"I"}]},"mark":{"type":"text","font":"Liberation Serif","fontStyle":"italic","fontSize":25,"align":"left","baseline":"alphabetic","color":"#3cae5a"},"encoding":{"text":{"field":"txt"}}},
     {"data":{"values":[{"t":5.0782,"v":23.2,"txt":"D"}]},"mark":{"type":"text","font":"Liberation Serif","fontStyle":"italic","fontSize":17,"align":"left","baseline":"alphabetic","color":"#3cae5a"},"encoding":{"text":{"field":"txt"}}}
    ]}
  ],
  "resolve":{"scale":{"y":"independent"}}
 },
 {"width":497,"height":170,
  "encoding":{"x":{"field":"t","type":"quantitative","title":null,"scale":{"domain":[4.99,5.13],"nice":false,"zero":false},"axis":{"values":[4.99,5.01,5.03,5.05,5.07,5.09,5.11,5.13],"labelExpr":"format(datum.value,'.2f')+'µs'","grid":true}},
   "y":{"field":"v","type":"quantitative","title":null,"scale":{"domain":[-10,90],"nice":false,"zero":false},"axis":{"values":[-10,0,10,20,30,40,50,60,70,80,90],"labelExpr":"datum.value+'A'","grid":true}}},
  "layer":[
   {"data":{"name":"aG"},"mark":{"type":"line","color":"#b8902e","strokeWidth":1.2,"interpolate":"monotone","clip":true},"encoding":{"detail":{"field":"c"}}},
   {"data":{"name":"aR"},"mark":{"type":"line","color":"#e8262a","strokeWidth":1.1,"interpolate":"monotone","clip":true},"encoding":{"detail":{"field":"c"}}},
   {"data":{"values":[{"t":4.9987,"v":71.5,"txt":"I"}]},"mark":{"type":"text","font":"Liberation Serif","fontStyle":"italic","fontSize":23,"align":"left","baseline":"alphabetic","color":"#c49a3c"},"encoding":{"text":{"field":"txt"}}},
   {"data":{"values":[{"t":5.0016,"v":68.6,"txt":"SGaN 1"}]},"mark":{"type":"text","font":"Liberation Serif","fontStyle":"italic","fontSize":16,"align":"left","baseline":"alphabetic","color":"#c49a3c"},"encoding":{"text":{"field":"txt"}}},
   {"data":{"values":[{"t":5.108,"v":12.4,"txt":"I"}]},"mark":{"type":"text","font":"Liberation Serif","fontStyle":"italic","fontSize":23,"align":"left","baseline":"alphabetic","color":"#d02a2a"},"encoding":{"text":{"field":"txt"}}},
   {"data":{"values":[{"t":5.1103,"v":8.5,"txt":"SGaN n"}]},"mark":{"type":"text","font":"Liberation Serif","fontStyle":"italic","fontSize":16,"align":"left","baseline":"alphabetic","color":"#d02a2a"},"encoding":{"text":{"field":"txt"}}},
   {"data":{"values":[{"t":5.1163,"v":-24.5,"txt":"(a)"}]},"mark":{"type":"text","font":"Liberation Serif","fontSize":21,"align":"left","baseline":"alphabetic","color":"#222"},"encoding":{"text":{"field":"txt"}}}
  ]
 }
]},
{"spacing":16,"bounds":"flush","vconcat":[
 {"width":488,"height":166,
  "encoding":{"x":{"field":"t","type":"quantitative","title":null,"scale":{"domain":[4.99,5.13],"nice":false,"zero":false},"axis":{"values":[4.99,5.01,5.03,5.05,5.07,5.09,5.11,5.13],"labels":false,"ticks":false,"grid":true}}},
  "layer":[
   {"encoding":{"y":{"field":"v","type":"quantitative","title":null,"scale":{"domain":[-10,60],"nice":false,"zero":false},"axis":{"values":[-10,0,10,20,30,40,50,60],"labelExpr":"datum.value+'V'","grid":true}}},
    "layer":[
     {"data":{"name":"bV"},"mark":{"type":"line","color":"#3646a8","strokeWidth":1.4,"interpolate":"monotone","clip":true},"encoding":{"detail":{"field":"c"}}},
     {"data":{"values":[{"t":4.996,"v":30.9,"txt":"V"}]},"mark":{"type":"text","font":"Liberation Serif","fontStyle":"italic","fontSize":24,"align":"left","baseline":"alphabetic","color":"#4a5cc0"},"encoding":{"text":{"field":"txt"}}},
     {"data":{"values":[{"t":5.0014,"v":27.4,"txt":"DS"}]},"mark":{"type":"text","font":"Liberation Serif","fontStyle":"italic","fontSize":17,"align":"left","baseline":"alphabetic","color":"#4a5cc0"},"encoding":{"text":{"field":"txt"}}}
    ]},
   {"encoding":{"y":{"field":"v","type":"quantitative","title":null,"scale":{"domain":[-10,60],"nice":false,"zero":false},"axis":{"orient":"right","values":[-10,0,10,20,30,40,50,60],"labelExpr":"datum.value+'A'","grid":false}}},
    "layer":[
     {"data":{"name":"bI"},"mark":{"type":"line","color":"#4cb848","strokeWidth":1.2,"interpolate":"monotone","clip":true},"encoding":{"detail":{"field":"c"}}},
     {"data":{"values":[{"t":5.0927,"v":34.8,"txt":"I"}]},"mark":{"type":"text","font":"Liberation Serif","fontStyle":"italic","fontSize":25,"align":"left","baseline":"alphabetic","color":"#3cae5a"},"encoding":{"text":{"field":"txt"}}},
     {"data":{"values":[{"t":5.095,"v":31.6,"txt":"D"}]},"mark":{"type":"text","font":"Liberation Serif","fontStyle":"italic","fontSize":17,"align":"left","baseline":"alphabetic","color":"#3cae5a"},"encoding":{"text":{"field":"txt"}}}
    ]}
  ],
  "resolve":{"scale":{"y":"independent"}}
 },
 {"width":488,"height":171,
  "encoding":{"x":{"field":"t","type":"quantitative","title":null,"scale":{"domain":[4.99,5.13],"nice":false,"zero":false},"axis":{"values":[4.99,5.01,5.03,5.05,5.07,5.09,5.11,5.13],"labelExpr":"format(datum.value,'.2f')+'µs'","grid":true}},
   "y":{"field":"v","type":"quantitative","title":null,"scale":{"domain":[-20,80],"nice":false,"zero":false},"axis":{"values":[-20,-10,0,10,20,30,40,50,60,70,80],"labelExpr":"datum.value+'A'","grid":true}}},
  "layer":[
   {"data":{"name":"bG"},"mark":{"type":"line","color":"#b8902e","strokeWidth":1.2,"interpolate":"monotone","clip":true},"encoding":{"detail":{"field":"c"}}},
   {"data":{"name":"bR"},"mark":{"type":"line","color":"#e8262a","strokeWidth":1.5,"interpolate":"monotone","clip":true},"encoding":{"detail":{"field":"c"}}},
   {"data":{"values":[{"t":4.9946,"v":61.5,"txt":"I"}]},"mark":{"type":"text","font":"Liberation Serif","fontStyle":"italic","fontSize":23,"align":"left","baseline":"alphabetic","color":"#c49a3c"},"encoding":{"text":{"field":"txt"}}},
   {"data":{"values":[{"t":4.9972,"v":57.6,"txt":"SGaN 1"}]},"mark":{"type":"text","font":"Liberation Serif","fontStyle":"italic","fontSize":16,"align":"left","baseline":"alphabetic","color":"#c49a3c"},"encoding":{"text":{"field":"txt"}}},
   {"data":{"values":[{"t":5.1113,"v":-14.5,"txt":"I"}]},"mark":{"type":"text","font":"Liberation Serif","fontStyle":"italic","fontSize":23,"align":"left","baseline":"alphabetic","color":"#d02a2a"},"encoding":{"text":{"field":"txt"}}},
   {"data":{"values":[{"t":5.1136,"v":-16.5,"txt":"SGaN n"}]},"mark":{"type":"text","font":"Liberation Serif","fontStyle":"italic","fontSize":16,"align":"left","baseline":"alphabetic","color":"#d02a2a"},"encoding":{"text":{"field":"txt"}}},
   {"data":{"values":[{"t":5.1165,"v":-37.6,"txt":"(b)"}]},"mark":{"type":"text","font":"Liberation Serif","fontSize":21,"align":"left","baseline":"alphabetic","color":"#222"},"encoding":{"text":{"field":"txt"}}}
  ]
 }
]}
],
"spacing":-1,
"config":{
 "view":{"stroke":"#444","strokeWidth":1},
 "axis":{"labelFont":"Liberation Sans","labelFontWeight":"bold","labelFontSize":9.5,"labelColor":"#333","domainColor":"#444","tickColor":"#444","tickSize":3,"labelPadding":2,"gridColor":"#8a8a8a","gridDash":[2,2],"gridWidth":0.9}
}
}
